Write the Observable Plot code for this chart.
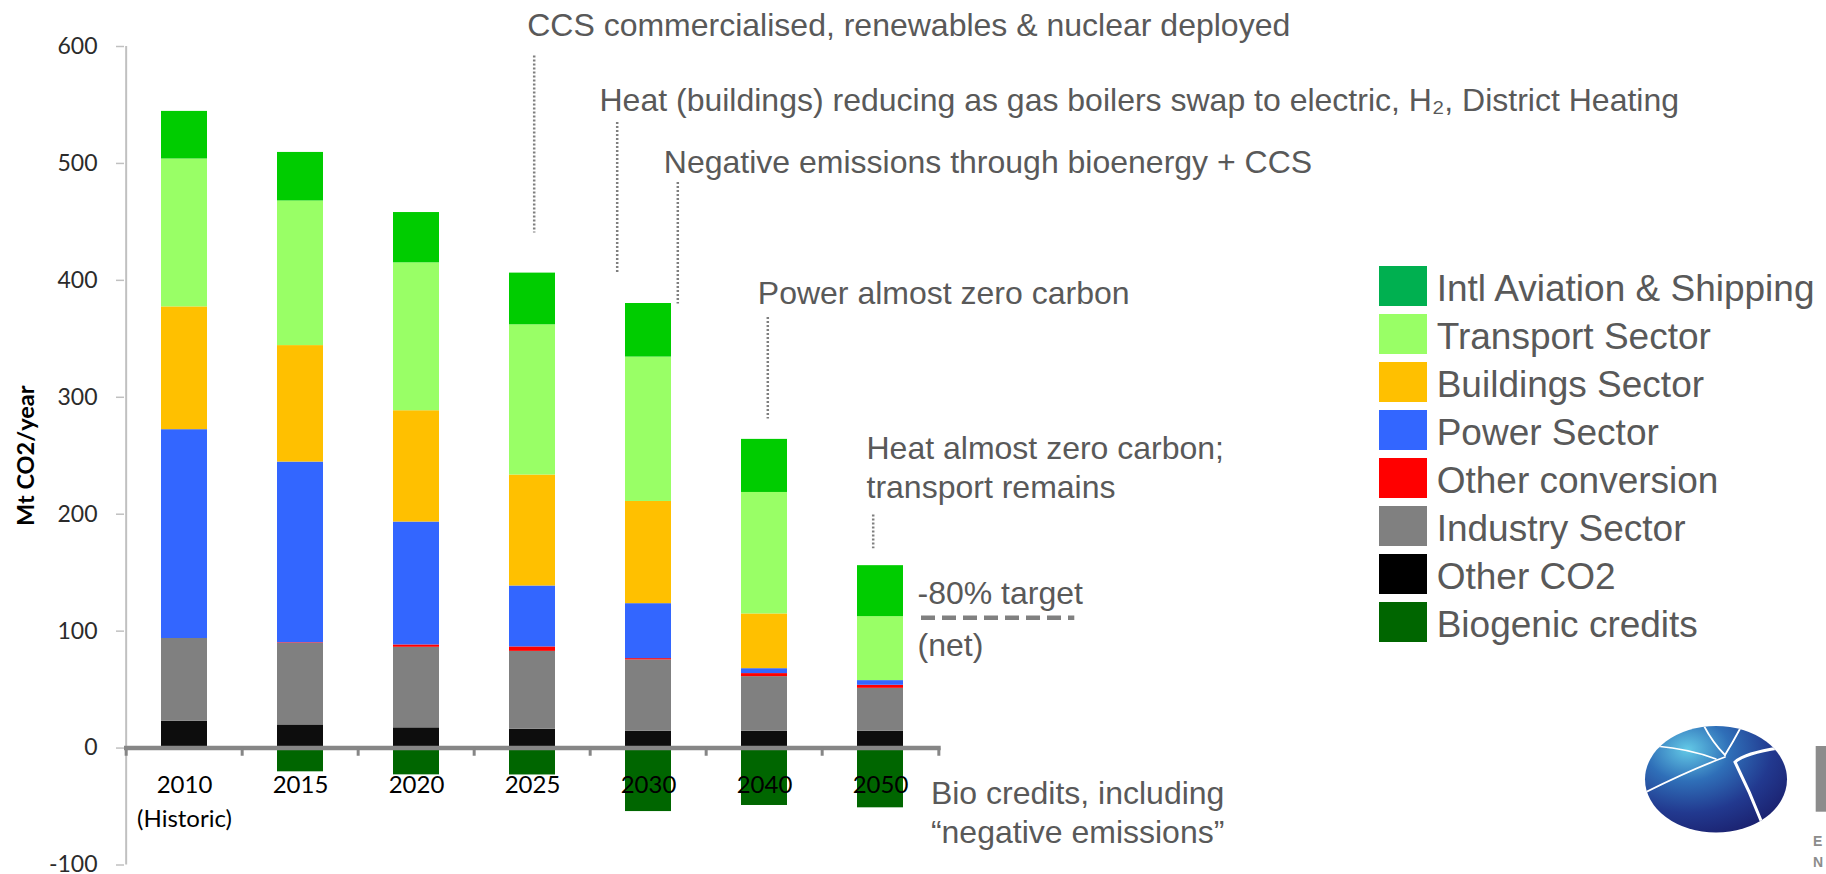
<!DOCTYPE html>
<html>
<head>
<meta charset="utf-8">
<script src="https://cdn.jsdelivr.net/npm/d3@7"></script>
<script src="https://cdn.jsdelivr.net/npm/@observablehq/plot@0.6"></script>
<style>
html, body { margin: 0; padding: 0; background: #fff; width: 1826px; height: 874px; overflow: hidden; }
#wrap { position: relative; width: 1826px; height: 874px; }
#chart { position: absolute; left: 0; top: 0; }
#legend { position: absolute; left: 1379px; top: 262px; font-family: "Liberation Sans", Arial, sans-serif; font-size: 37px; color: #595959; }
.row { display: flex; align-items: center; height: 48px; white-space: nowrap; }
.sw { width: 47.7px; height: 39.5px; margin-right: 10px; flex: none; }
.lt { position: relative; top: 3px; }
#logo { position: absolute; left: 0; top: 0; pointer-events: none; }
</style>
</head>
<body>
<div id="wrap">
  <div id="chart"></div>
  <div id="legend"></div>
  <svg id="logo" width="1826" height="874" viewBox="0 0 1826 874">
    <defs>
      <radialGradient id="g1" cx="0.3" cy="0.22" r="0.85">
        <stop offset="0" stop-color="#63c9e6"/>
        <stop offset="0.35" stop-color="#2f6fb8"/>
        <stop offset="0.7" stop-color="#22398f"/>
        <stop offset="1" stop-color="#1b2270"/>
      </radialGradient>
      <clipPath id="ec"><ellipse cx="1716" cy="779.3" rx="71" ry="53.3"/></clipPath>
    </defs>
    <ellipse cx="1716" cy="779.3" rx="71" ry="53.3" fill="url(#g1)"/>
    <g clip-path="url(#ec)" fill="none" stroke="#fff" stroke-linecap="round">
      <path d="M1703,724 Q1712,742 1725,755" stroke-width="1.8"/>
      <path d="M1741,727 Q1733,742 1725,755" stroke-width="1.8"/>
      <path d="M1725,757 Q1690,770 1644,793" stroke-width="1.8"/>
      <path d="M1656,746 Q1690,749 1716,759" stroke-width="1.5"/>
      <path d="M1779,748 Q1745,753 1735,762 Q1750,792 1762,823" stroke-width="3"/>
    </g>
    <rect x="1815.7" y="746" width="12" height="65.7" fill="#8c8c8c"/>
    <text x="1813" y="846" font-family="Liberation Sans, Arial, sans-serif" font-weight="bold" font-size="14" fill="#8c8c8c">E</text>
    <text x="1813" y="867" font-family="Liberation Sans, Arial, sans-serif" font-weight="bold" font-size="14" fill="#8c8c8c">N</text>
  </svg>
</div>
<script>
// ---- data ----
const years = ["2010", "2015", "2020", "2025", "2030", "2040", "2050"];
const seriesNames = ["Other CO2", "Industry Sector", "Other conversion", "Power Sector",
  "Buildings Sector", "Transport Sector", "Intl Aviation & Shipping", "Biogenic credits"];
const otherCO2        = [23.0, 19.8, 17.3, 16.1, 14.4, 14.4, 14.4];
const industry        = [70.7, 69.8, 68.9, 66.6, 61.0, 46.7, 36.7];
const otherConversion = [0.0, 0.5, 2.0, 3.8, 1.1, 2.6, 2.6];
const power           = [178.6, 154.5, 105.1, 52.1, 47.0, 4.2, 4.0];
const buildings       = [105.0, 99.6, 95.2, 94.9, 87.4, 46.8, 0.0];
const transport       = [126.5, 123.7, 126.5, 128.5, 123.5, 103.9, 54.7];
const aviation        = [40.7, 41.5, 43.0, 44.2, 45.8, 45.4, 43.6];
const biogenic        = [0.0, -20.3, -22.9, -23.0, -54.3, -49.1, -51.1];
const barColors = ["#0d0d0d", "#808080", "#ff0000", "#3366ff", "#ffc000", "#99ff66", "#00cc00", "#006600"];

const legendNames = ["Intl Aviation & Shipping", "Transport Sector", "Buildings Sector", "Power Sector",
  "Other conversion", "Industry Sector", "Other CO2", "Biogenic credits"];
const legendColors = ["#00b050", "#99ff66", "#ffc000", "#3366ff", "#ff0000", "#808080", "#000000", "#006600"];

const yTicks = [-100, 0, 100, 200, 300, 400, 500, 600];
const yLabel = "Mt CO2/year";
const historicNote = "(Historic)";
const targetValue = 111.5;

const annoTexts = [
  "CCS commercialised, renewables & nuclear deployed",
  "Heat (buildings) reducing as gas boilers swap to electric, H\u2082, District Heating",
  "Negative emissions through bioenergy + CCS",
  "Power almost zero carbon",
  "Heat almost zero carbon;",
  "transport remains",
  "-80% target",
  "(net)",
  "Bio credits, including",
  "\u201cnegative emissions\u201d"
];
const annoYears = ["2025", "2030", "2030", "2040", "2050", "2050", "2050", "2050", "2050", "2050"];
const annoDx = [-5.3, -49, 15.3, -6.7, -14, -14, 37, 37, 50.4, 50.4];
const annoBaselines = [609.0, 544.9, 492.1, 379.7, 246.8, 214.1, 122.9, 79.1, -48.0, -80.8];

const leaderYears = ["2025", "2030", "2030", "2040", "2050"];
const leaderDx = [1.7, -31.3, 29.3, 3.3, -7.3];
const leaderTop = [591.9, 534.9, 483.6, 368.2, 199.3];
const leaderBottom = [440.6, 406.7, 379.7, 281.4, 170.5];

// ---- build ----
const seriesValues = [otherCO2, industry, otherConversion, power, buildings, transport, aviation, biogenic];
const rows = seriesNames.flatMap((s, k) => years.map((yr, i) => ({year: yr, series: s, value: seriesValues[k][i]})));

const W = 1826, H = 874, mL = 124, mR = 885.3, mT = 46, mB = 9.5;
const halfStep = (W - mL - mR) / years.length / 2;
const annoFont = "Liberation Sans, Arial, sans-serif";

const marks = [
  Plot.barY(rows, {x: "year", y: "value", fill: "series", order: seriesNames}),
  // y axis line
  Plot.ruleX([years[0]], {x: d => d, y1: -100, y2: 600, dx: -halfStep, stroke: "#c0c0c0", strokeWidth: 2}),
  Plot.axisY({ticks: yTicks, tickSize: 8, tickFormat: () => "", color: "#c0c0c0", strokeWidth: 1.5, label: null}),
  Plot.axisY({ticks: yTicks, tickSize: 0, tickPadding: 27, tickFormat: d => String(d), color: "#2b2b2b", fontSize: 23, label: null}),
  // category axis along zero
  Plot.ruleY([0], {stroke: "#868686", strokeWidth: 4.5}),
  Plot.ruleX(years, {x: d => d, y1: 0, y2: -7, dx: -halfStep, stroke: "#868686", strokeWidth: 3}),
  Plot.ruleX([years[years.length - 1]], {x: d => d, y1: 0, y2: -7, dx: halfStep, stroke: "#868686", strokeWidth: 3}),
  Plot.text(years, {x: d => d, y: 0, text: d => d, dy: 44.5, lineAnchor: "bottom", fontSize: 24, fill: "#000"}),
  Plot.text([historicNote], {x: () => years[0], y: 0, text: d => d, dy: 78.8, lineAnchor: "bottom", fontSize: 24, fill: "#000"}),
  // -80% target dashed line
  Plot.tickY([targetValue], {x: () => "2050", y: d => d, insetLeft: 64, insetRight: -171.3,
    stroke: "#808080", strokeWidth: 4.5, strokeDasharray: "14,7"}),
  // y axis title
  Plot.text([yLabel], {frameAnchor: "left", rotate: -90, dx: -90.7, lineAnchor: "bottom", textAnchor: "middle",
    fontWeight: "bold", fontSize: 23.5, fill: "#000", text: d => d})
];

leaderYears.forEach((yr, i) => {
  marks.push(Plot.ruleX([yr], {x: d => d, y1: leaderTop[i], y2: leaderBottom[i], dx: leaderDx[i],
    stroke: "#7f7f7f", strokeWidth: 2.5, strokeDasharray: "2,2"}));
});
annoTexts.forEach((t, i) => {
  marks.push(Plot.text([t], {x: () => annoYears[i], y: () => annoBaselines[i], text: d => d, dx: annoDx[i],
    textAnchor: "start", lineAnchor: "bottom", fontFamily: annoFont, fontSize: 32, fill: "#595959"}));
});

const chart = Plot.plot({
  width: W, height: H,
  marginLeft: mL, marginRight: mR, marginTop: mT, marginBottom: mB,
  style: {fontFamily: "Lato, sans-serif", background: "transparent", overflow: "visible"},
  x: {type: "band", domain: years, paddingInner: 0.6, paddingOuter: 0.3, axis: null},
  y: {domain: [-100, 600], axis: null},
  color: {domain: seriesNames, range: barColors},
  marks
});
document.getElementById("chart").appendChild(chart);

// legend (HTML)
const legend = document.getElementById("legend");
legendNames.forEach((name, i) => {
  const row = document.createElement("div");
  row.className = "row";
  const sw = document.createElement("div");
  sw.className = "sw";
  sw.style.background = legendColors[i];
  const lt = document.createElement("span");
  lt.className = "lt";
  lt.textContent = name;
  row.appendChild(sw);
  row.appendChild(lt);
  legend.appendChild(row);
});
</script>
</body>
</html>
